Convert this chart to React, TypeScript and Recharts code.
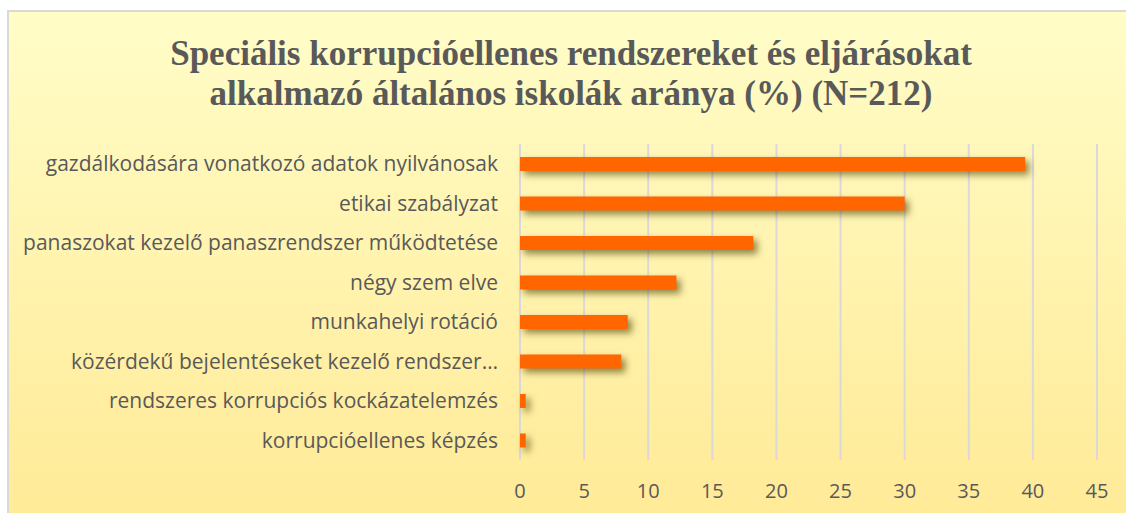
import React from "react";
import { BarChart, Bar, XAxis, YAxis, CartesianGrid } from "recharts";

const categories = [
  "gazdálkodására vonatkozó adatok nyilvánosak",
  "etikai szabályzat",
  "panaszokat kezelő panaszrendszer működtetése",
  "négy szem elve",
  "munkahelyi rotáció",
  "közérdekű bejelentéseket kezelő rendszer…",
  "rendszeres korrupciós kockázatelemzés",
  "korrupcióellenes képzés",
];
const values = [39.4, 30.0, 18.2, 12.2, 8.4, 7.9, 0.45, 0.45];
const xTicks = [0, 5, 10, 15, 20, 25, 30, 35, 40, 45];
const titleLines = [
  "Speciális korrupcióellenes rendszereket és eljárásokat",
  "alkalmazó általános iskolák aránya (%) (N=212)",
];

const data = categories.map((name, i) => ({ name, value: values[i] }));

const ShadowBar = (props: any) => {
  const { x, y, width, height } = props;
  if (width <= 0) return null;
  return (
    <rect
      x={x}
      y={y}
      width={width}
      height={height}
      fill="#FF6600"
      style={{ filter: "drop-shadow(4px 4px 3.5px rgba(70,60,0,0.6))" }}
    />
  );
};

export default function App() {
  return (
    <div style={{ position: "absolute", left: 0, top: 0, width: 1126, height: 513, overflow: "hidden" }}>
      <div
        style={{
          position: "absolute",
          left: 7,
          top: 10,
          width: 1130,
          height: 520,
          border: "2px solid #D9D9D9",
          background: "linear-gradient(to bottom, #FFFDC8 0%, #FFF3AE 50%, #FFEA96 100%)",
        }}
      />
      <div
        style={{
          position: "absolute",
          left: 0,
          top: 34,
          width: 1142,
          textAlign: "center",
          fontFamily: "'Liberation Serif', 'Times New Roman', serif",
          fontWeight: "bold",
          fontSize: 35,
          lineHeight: "39.5px",
          color: "#595959",
          whiteSpace: "nowrap",
        }}
      >
        {titleLines.map((t, i) => (
          <div key={i}>{t}</div>
        ))}
      </div>
      <div style={{ position: "absolute", left: 0, top: 0 }}>
        <BarChart
          width={1126}
          height={513}
          data={data}
          layout="vertical"
          margin={{ top: 144, right: 29, bottom: 0, left: 0 }}
          barSize={14}
        >
          <CartesianGrid horizontal={false} vertical={true} stroke="#D9D9D9" strokeWidth={2} />
          <XAxis
            type="number"
            domain={[0, 45]}
            ticks={xTicks}
            axisLine={false}
            tickLine={false}
            height={53}
            tick={{ fill: "#595959", fontSize: 20, fontFamily: "'Open Sans', sans-serif", dy: 16 }}
          />
          <YAxis
            type="category"
            dataKey="name"
            width={520}
            axisLine={false}
            tickLine={false}
            interval={0}
            tick={{ fill: "#595959", fontSize: 21, fontFamily: "'Open Sans', sans-serif", dx: -14 }}
          />
          <Bar dataKey="value" isAnimationActive={false} shape={ShadowBar} />
        </BarChart>
      </div>
    </div>
  );
}
